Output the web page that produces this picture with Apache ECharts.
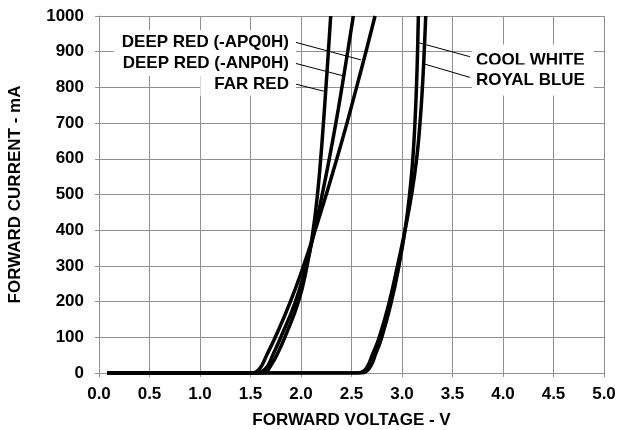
<!DOCTYPE html>
<html><head><meta charset="utf-8">
<script src="https://cdn.jsdelivr.net/npm/echarts@6/dist/echarts.min.js"></script>
<style>html,body{margin:0;padding:0;background:#fff}#c{width:619px;height:430px}</style>
</head><body><div id="c"></div><script>
// ---- data (forward voltage V, forward current mA) ----
const farRedV    = [0.08, 1.62, 1.66, 1.71, 1.76, 1.84, 1.975, 2.06, 2.12, 2.163, 2.195, 2.222, 2.247, 2.271, 2.294];
const farRedI    = [0,    0,    4,    25,   50,   100,  200,   300,  400,  500,   600,   700,   800,   900,   1000];
const anp0hV     = [0.08, 1.56, 1.61, 1.67, 1.72, 1.80, 1.945, 2.05, 2.135, 2.21, 2.28, 2.345, 2.405, 2.462, 2.518];
const anp0hI     = [0,    0,    4,    20,   50,   100,  200,   300,  400,   500,  600,  700,   800,   900,   1000];
const apq0hV     = [0.08, 1.51, 1.56, 1.61, 1.66, 1.745, 1.895, 2.025, 2.14, 2.25, 2.355, 2.455, 2.55, 2.643, 2.733];
const apq0hI     = [0,    0,    4,    20,   50,   100,   200,   300,   400,  500,  600,   700,   800,  900,   1000];
const coolWhiteV = [0.08, 2.60, 2.65, 2.70, 2.735, 2.80, 2.895, 2.97, 3.03, 3.075, 3.107, 3.128, 3.143, 3.154, 3.162];
const coolWhiteI = [0,    0,    5,    25,   50,    100,  200,   300,  400,  500,   600,   700,   800,   900,   1000];
const royalBlueV = [0.08, 2.56, 2.62, 2.67, 2.705, 2.775, 2.875, 2.955, 3.03, 3.095, 3.145, 3.178, 3.202, 3.22, 3.235];
const royalBlueI = [0,    0,    5,    25,   50,    100,   200,   300,   400,  500,   600,   700,   800,   900,  1000];

const xTickLabels = ['0.0','0.5','1.0','1.5','2.0','2.5','3.0','3.5','4.0','4.5','5.0'];
const yTickLabels = ['0','100','200','300','400','500','600','700','800','900','1000'];

const seriesNames = ['FAR RED', 'DEEP RED (-ANP0H)', 'DEEP RED (-APQ0H)', 'COOL WHITE', 'ROYAL BLUE'];

// annotation label anchors (box edge) and leader lines, in data coordinates
const labelText   = ['DEEP RED (-APQ0H)', 'DEEP RED (-ANP0H)', 'FAR RED', 'COOL WHITE', 'ROYAL BLUE'];
const labelAnchor = [[1.950, 926], [1.950, 867], [1.950, 809], [3.693, 877], [3.693, 821]];
const labelAlign  = ['right', 'right', 'right', 'left', 'left'];
const leaderFrom  = [[1.95, 926], [1.95, 867], [1.95, 809], [3.673, 886], [3.673, 828]];
const leaderTo    = [[2.594, 877], [2.409, 833], [2.231, 789], [3.168, 925], [3.228, 865]];

const FONT = 'bold 17px "Liberation Sans", Arial, sans-serif';
const pairs = (v, i) => v.map((x, k) => [x, i[k]]);
const curves = [pairs(farRedV, farRedI), pairs(anp0hV, anp0hI), pairs(apq0hV, apq0hI),
                pairs(coolWhiteV, coolWhiteI), pairs(royalBlueV, royalBlueI)];

const chart = echarts.init(document.getElementById('c'), null, {renderer: 'canvas'});
const axisText = {color: '#000', fontWeight: 'bold', fontSize: 17, fontFamily: '"Liberation Sans", Arial, sans-serif'};
chart.setOption({
  animation: false,
  backgroundColor: '#fff',
  grid: {left: 99, right: 15, top: 16, bottom: 57, containLabel: false, outerBoundsMode: 'none'},
  xAxis: {
    type: 'value', min: 0, max: 5, interval: 0.5,
    name: 'FORWARD VOLTAGE - V', nameLocation: 'middle', nameGap: 39,
    nameTextStyle: axisText,
    axisLine: {lineStyle: {color: '#909090', width: 1}},
    axisTick: {show: true, length: 4, lineStyle: {color: '#909090'}},
    axisLabel: Object.assign({margin: 13, formatter: (v) => xTickLabels[Math.round(v / 0.5)]}, axisText),
    splitLine: {show: true, lineStyle: {color: '#909090', width: 1}}
  },
  yAxis: {
    type: 'value', min: 0, max: 1000, interval: 100,
    name: 'FORWARD CURRENT - mA', nameLocation: 'middle', nameGap: 75,
    nameTextStyle: axisText,
    axisLine: {show: true, lineStyle: {color: '#909090', width: 1}},
    axisTick: {show: true, length: 4, lineStyle: {color: '#909090'}},
    axisLabel: Object.assign({margin: 15, formatter: (v) => yTickLabels[Math.round(v / 100)]}, axisText),
    splitLine: {show: true, lineStyle: {color: '#909090', width: 1}}
  },
  series: curves.map((d, k) => ({
    name: seriesNames[k], type: 'line', data: d, smooth: 0.5,
    showSymbol: false, clip: true,
    lineStyle: {color: '#000', width: 3.5}
  }))
});

const px = (p) => chart.convertToPixel({gridIndex: 0}, p);
const graphics = [];
labelText.forEach((t, k) => {
  const a = px(labelAnchor[k]);
  const right = labelAlign[k] === 'right';
  graphics.push({
    type: 'text', z: 50,
    style: {
      text: t, x: a[0], y: a[1], align: labelAlign[k], verticalAlign: 'middle',
      font: FONT, fill: '#000', backgroundColor: '#fff',
      padding: right ? (k === 2 ? [3, 7, 3, 14] : [4, 7, 4, 8]) : [7, 9, 7, 4]
    }
  });
});
leaderFrom.forEach((f, k) => {
  const a = px(f), b = px(leaderTo[k]);
  graphics.push({
    type: 'line', z: 60,
    shape: {x1: a[0], y1: a[1], x2: b[0], y2: b[1]},
    style: {stroke: '#000', lineWidth: 1}
  });
});
chart.setOption({graphic: graphics});
</script></body></html>
